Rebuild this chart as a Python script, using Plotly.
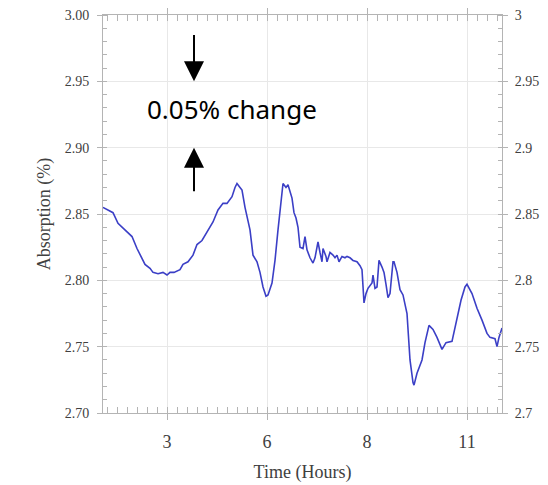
import plotly.graph_objects as go

# x positions along the (evenly spaced) time axis; tick positions 1..4 labelled 3,6,8,11 h
x_pos = [0.36, 0.41, 0.46, 0.51, 0.58, 0.65, 0.70, 0.75, 0.78, 0.83, 0.86, 0.91, 0.96, 1.00,
         1.03, 1.07, 1.13, 1.16, 1.21, 1.26, 1.30, 1.35, 1.40, 1.46, 1.51, 1.56, 1.60, 1.65,
         1.68, 1.70, 1.73, 1.75, 1.78, 1.83, 1.86, 1.90, 1.93, 1.96, 1.99, 2.01, 2.05, 2.08,
         2.11, 2.15, 2.16, 2.19, 2.21, 2.25, 2.27, 2.29, 2.31, 2.33, 2.36, 2.38, 2.40, 2.43,
         2.46, 2.48, 2.51, 2.53, 2.55, 2.56, 2.59, 2.60, 2.63, 2.66, 2.68, 2.70, 2.72, 2.75,
         2.78, 2.80, 2.83, 2.86, 2.90, 2.93, 2.95, 2.97, 2.99, 3.01, 3.05, 3.06, 3.08, 3.10,
         3.12, 3.15, 3.17, 3.19, 3.21, 3.23, 3.26, 3.27, 3.30, 3.33, 3.36, 3.40, 3.43, 3.46,
         3.47, 3.50, 3.55, 3.58, 3.62, 3.66, 3.70, 3.75, 3.79, 3.85, 3.90, 3.94, 3.98, 4.00,
         4.05, 4.10, 4.15, 4.20, 4.23, 4.28, 4.30, 4.32, 4.35]

absorption = [2.855, 2.853, 2.851, 2.843, 2.838, 2.833, 2.824, 2.817, 2.812, 2.809, 2.806, 2.805, 2.806, 2.804,
              2.806, 2.806, 2.808, 2.812, 2.814, 2.819, 2.827, 2.830, 2.836, 2.844, 2.853, 2.858, 2.858, 2.863,
              2.870, 2.873, 2.870, 2.868, 2.855, 2.838, 2.819, 2.814, 2.806, 2.795, 2.788, 2.789, 2.798, 2.815,
              2.838, 2.863, 2.873, 2.870, 2.872, 2.862, 2.851, 2.847, 2.840, 2.825, 2.824, 2.833, 2.823, 2.817,
              2.813, 2.817, 2.829, 2.821, 2.814, 2.824, 2.818, 2.814, 2.821, 2.819, 2.817, 2.819, 2.814, 2.818,
              2.817, 2.818, 2.817, 2.815, 2.814, 2.811, 2.808, 2.783, 2.790, 2.794, 2.798, 2.804, 2.794, 2.795,
              2.815, 2.810, 2.806, 2.797, 2.787, 2.790, 2.814, 2.814, 2.806, 2.793, 2.789, 2.775, 2.740, 2.723,
              2.721, 2.730, 2.740, 2.753, 2.766, 2.763, 2.757, 2.748, 2.753, 2.754, 2.770, 2.785, 2.795, 2.797,
              2.790, 2.779, 2.770, 2.760, 2.757, 2.756, 2.750, 2.757, 2.764]

x_tick_pos = [1, 2, 3, 4]
x_tick_text = ["3", "6", "8", "11"]
y_ticks = [2.70, 2.75, 2.80, 2.85, 2.90, 2.95, 3.00]
y_left_text = ["2.70", "2.75", "2.80", "2.85", "2.90", "2.95", "3.00"]
y_right_text = ["2.7", "2.75", "2.8", "2.85", "2.9", "2.95", "3"]

x_range = [0.36, 4.35]
y_range = [2.70, 3.00]

serif = "Liberation Serif"
frame = "#b4b4b4"
grid = "#e8e8e8"
label_col = "#404040"

fig = go.Figure()
fig.add_trace(go.Scatter(x=x_pos, y=absorption, mode="lines",
                         line=dict(color="#3b3fc6", width=1.6), showlegend=False))
fig.add_trace(go.Scatter(x=x_pos, y=absorption, mode="lines", yaxis="y2",
                         line=dict(width=0), opacity=0, showlegend=False, hoverinfo="skip"))

fig.update_layout(
    width=548, height=485,
    margin=dict(l=103, r=46, t=15, b=72, autoexpand=False),
    paper_bgcolor="white", plot_bgcolor="white",
    xaxis=dict(range=x_range, tickvals=x_tick_pos, ticktext=x_tick_text,
               showgrid=True, gridcolor=grid, gridwidth=1,
               showline=True, linecolor=frame, linewidth=1, mirror="allticks",
               ticks="outside", ticklen=6, tickcolor=frame,
               minor=dict(dtick=0.1, tick0=0, ticks="inside", ticklen=4, tickcolor=frame, showgrid=False),
               tickfont=dict(family=serif, size=18, color=label_col),
               ticklabelstandoff=6, automargin=False,
               title=dict(text="Time (Hours)", font=dict(family=serif, size=18, color=label_col), standoff=14),
               zeroline=False),
    yaxis=dict(range=y_range, tickvals=y_ticks, ticktext=y_left_text,
               showgrid=True, gridcolor=grid, gridwidth=1,
               showline=True, linecolor=frame, linewidth=1, mirror="allticks",
               ticks="outside", ticklen=5, tickcolor=frame,
               minor=dict(dtick=0.01, tick0=2.70, ticks="inside", ticklen=4, tickcolor=frame, showgrid=False),
               tickfont=dict(family=serif, size=14, color=label_col),
               ticklabelstandoff=5, automargin=False,
               title=dict(text="Absorption (%)", font=dict(family=serif, size=18, color=label_col), standoff=9),
               zeroline=False),
    yaxis2=dict(range=y_range, overlaying="y", side="right", tickvals=y_ticks, ticktext=y_right_text,
                showgrid=False, showline=False, ticks="outside", ticklen=5, tickcolor=frame,
                tickfont=dict(family=serif, size=14, color=label_col), ticklabelstandoff=4,
                automargin=False, zeroline=False),
)

# 0.05 % change arrows and label
arrow_x = 1.27
fig.add_annotation(x=arrow_x, y=2.95, ax=arrow_x, ay=2.986, xref="x", yref="y", axref="x", ayref="y",
                   showarrow=True, arrowhead=2, arrowsize=2, arrowwidth=2, arrowcolor="black", text="")
fig.add_annotation(x=arrow_x, y=2.90, ax=arrow_x, ay=2.866, xref="x", yref="y", axref="x", ayref="y",
                   showarrow=True, arrowhead=2, arrowsize=2, arrowwidth=2, arrowcolor="black", text="")
fig.add_annotation(x=1.65, y=2.929, xref="x", yref="y", showarrow=False,
                   text="0.05% change", font=dict(family="Comic Sans MS, Noto Sans", size=26, color="black"))

fig.write_html("out.html")
